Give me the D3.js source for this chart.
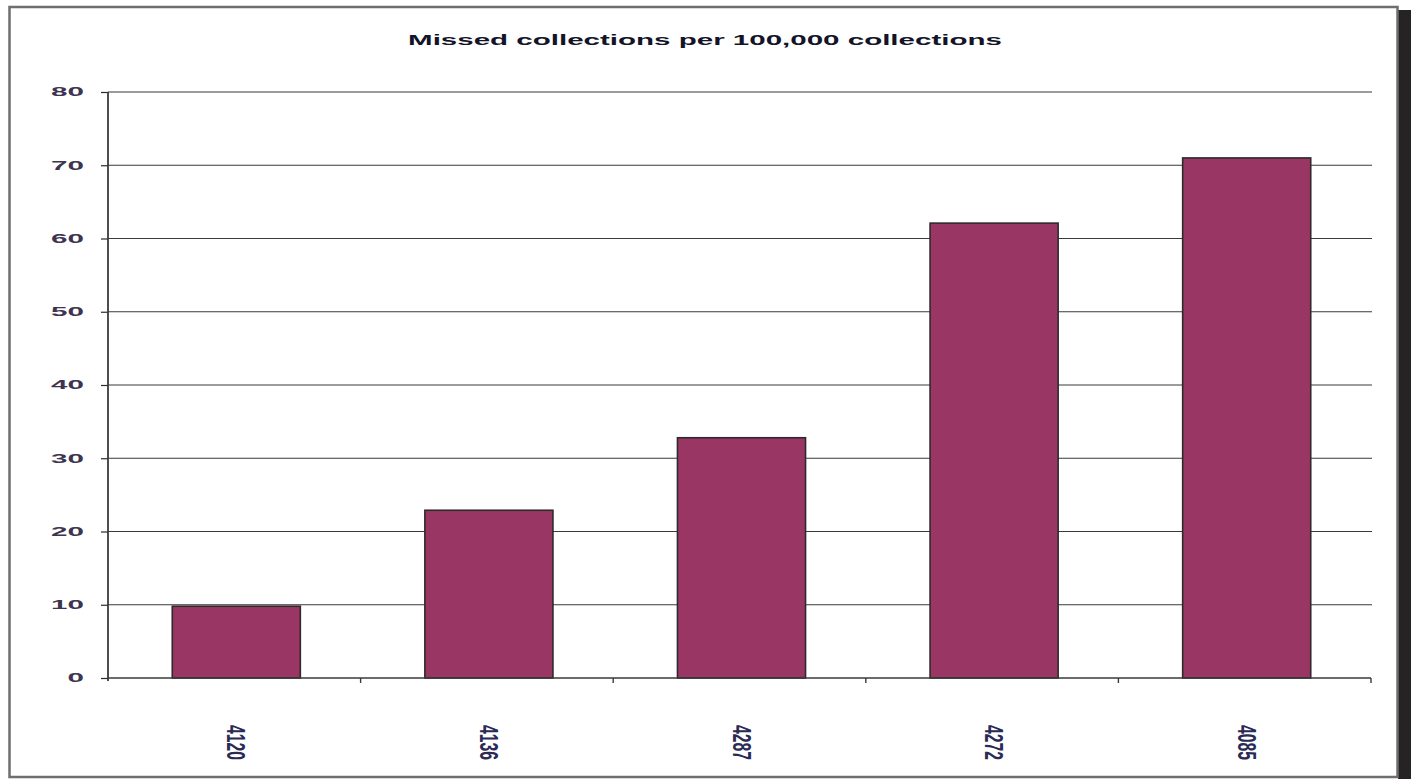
<!DOCTYPE html>
<html>
<head>
<meta charset="utf-8">
<script src="https://cdn.jsdelivr.net/npm/d3@7"></script>
<style>
  html, body { margin: 0; padding: 0; background: #fff; }
  svg { display: block; }
</style>
</head>
<body>
<svg id="chart" width="1416" height="779"></svg>
<script>
// Missed collections per 100,000 collections, by round
const categories = ["4120", "4136", "4287", "4272", "4085"];
const values = [9.8, 22.9, 32.8, 62.1, 71.0];
const yTicks = [0, 10, 20, 30, 40, 50, 60, 70, 80];
const title = "Missed collections per 100,000 collections";

const svg = d3.select("#chart");

// stretch a text node horizontally to a target width, keeping its anchor point fixed
function stretchTo(sel, width, anchorX) {
  sel.each(function () {
    const w = this.getComputedTextLength();
    const s = width / w;
    const node = d3.select(this);
    const ax = anchorX;
    const ay = +node.attr("y");
    node.attr("transform", `translate(${ax},${ay}) scale(${s},1) translate(${-ax},${-ay})`);
  });
}

// frame with a dark drop shadow on the right edge
svg.append("rect")
  .attr("x", 1398).attr("y", 10).attr("width", 13).attr("height", 769)
  .attr("fill", "#262324");
svg.append("rect")
  .attr("x", 9.5).attr("y", 7).attr("width", 1388).attr("height", 770)
  .attr("fill", "#fff").attr("stroke", "#6e6e6e").attr("stroke-width", 2.5);

const plot = { left: 108, right: 1371, top: 92, bottom: 678 };

const x = d3.scaleBand()
  .domain(categories)
  .range([plot.left, plot.right])
  .paddingInner(0.493)
  .paddingOuter(0.2465);

const y = d3.scaleLinear()
  .domain([0, 80])
  .range([plot.bottom, plot.top]);

// horizontal gridlines
svg.append("g")
  .selectAll("line")
  .data(yTicks.filter(d => d > 0))
  .join("line")
  .attr("x1", plot.left).attr("x2", plot.right + 1)
  .attr("y1", d => y(d)).attr("y2", d => y(d))
  .attr("stroke", "#3a3a3a").attr("stroke-width", 1.2);

// bars
svg.append("g")
  .selectAll("rect")
  .data(values)
  .join("rect")
  .attr("x", (d, i) => x(categories[i]) + 2)
  .attr("y", d => y(d))
  .attr("width", x.bandwidth())
  .attr("height", d => y(0) - y(d))
  .attr("fill", "#993663")
  .attr("stroke", "#2e2a2c")
  .attr("stroke-width", 1.6);

// y axis ticks
const yAxis = d3.axisLeft(y)
  .tickValues(yTicks)
  .tickSize(7)
  .tickFormat(d3.format("d"));
const gy = svg.append("g")
  .attr("transform", `translate(${plot.left},0)`)
  .call(yAxis);
gy.select(".domain").remove();
gy.selectAll(".tick line").attr("stroke", "#2a2a2a").attr("stroke-width", 1.2);
gy.selectAll(".tick text").remove();
svg.append("line")
  .attr("x1", plot.left).attr("x2", plot.left)
  .attr("y1", plot.top).attr("y2", plot.bottom + 3)
  .attr("stroke", "#3a3a3a").attr("stroke-width", 1.8);

// y tick labels, wide and squat
svg.append("g")
  .selectAll("text")
  .data(yTicks)
  .join("text")
  .attr("x", 84)
  .attr("y", d => y(d) + 4.5)
  .attr("text-anchor", "end")
  .attr("font-family", "Liberation Sans, Arial, sans-serif")
  .attr("font-weight", "bold")
  .attr("font-size", 12)
  .attr("fill", "#3d3550")
  .text(d => d)
  .each(function (d) {
    stretchTo(d3.select(this), String(d).length * 16.5, 84);
  });

// x axis line with ticks at category boundaries
svg.append("line")
  .attr("x1", plot.left).attr("x2", plot.right)
  .attr("y1", plot.bottom).attr("y2", plot.bottom)
  .attr("stroke", "#3a3a3a").attr("stroke-width", 1.6);
const boundaries = categories.map((c, i) => plot.left + x.step() * (i + 1));
svg.append("g")
  .selectAll("line")
  .data(boundaries)
  .join("line")
  .attr("x1", d => d).attr("x2", d => d)
  .attr("y1", plot.bottom).attr("y2", plot.bottom + 5)
  .attr("stroke", "#3a3a3a").attr("stroke-width", 1.4);

// rotated category labels, read top to bottom
svg.append("g")
  .selectAll("text")
  .data(categories)
  .join("text")
  .attr("transform", d => `translate(${x(d) + x.bandwidth() / 2 - 7},725) scale(2.2,1) rotate(90)`)
  .attr("font-family", "Liberation Sans, Arial, sans-serif")
  .attr("font-weight", "bold")
  .attr("font-size", 11.5)
  .attr("fill", "#2a2a55")
  .attr("textLength", 35)
  .attr("lengthAdjust", "spacingAndGlyphs")
  .text(d => d);

// title
const titleText = svg.append("text")
  .attr("x", 705)
  .attr("y", 45)
  .attr("text-anchor", "middle")
  .attr("font-family", "Liberation Sans, Arial, sans-serif")
  .attr("font-weight", "bold")
  .attr("font-size", 14.5)
  .attr("fill", "#141428")
  .text(title);
stretchTo(titleText, 594, 705);
</script>
</body>
</html>
